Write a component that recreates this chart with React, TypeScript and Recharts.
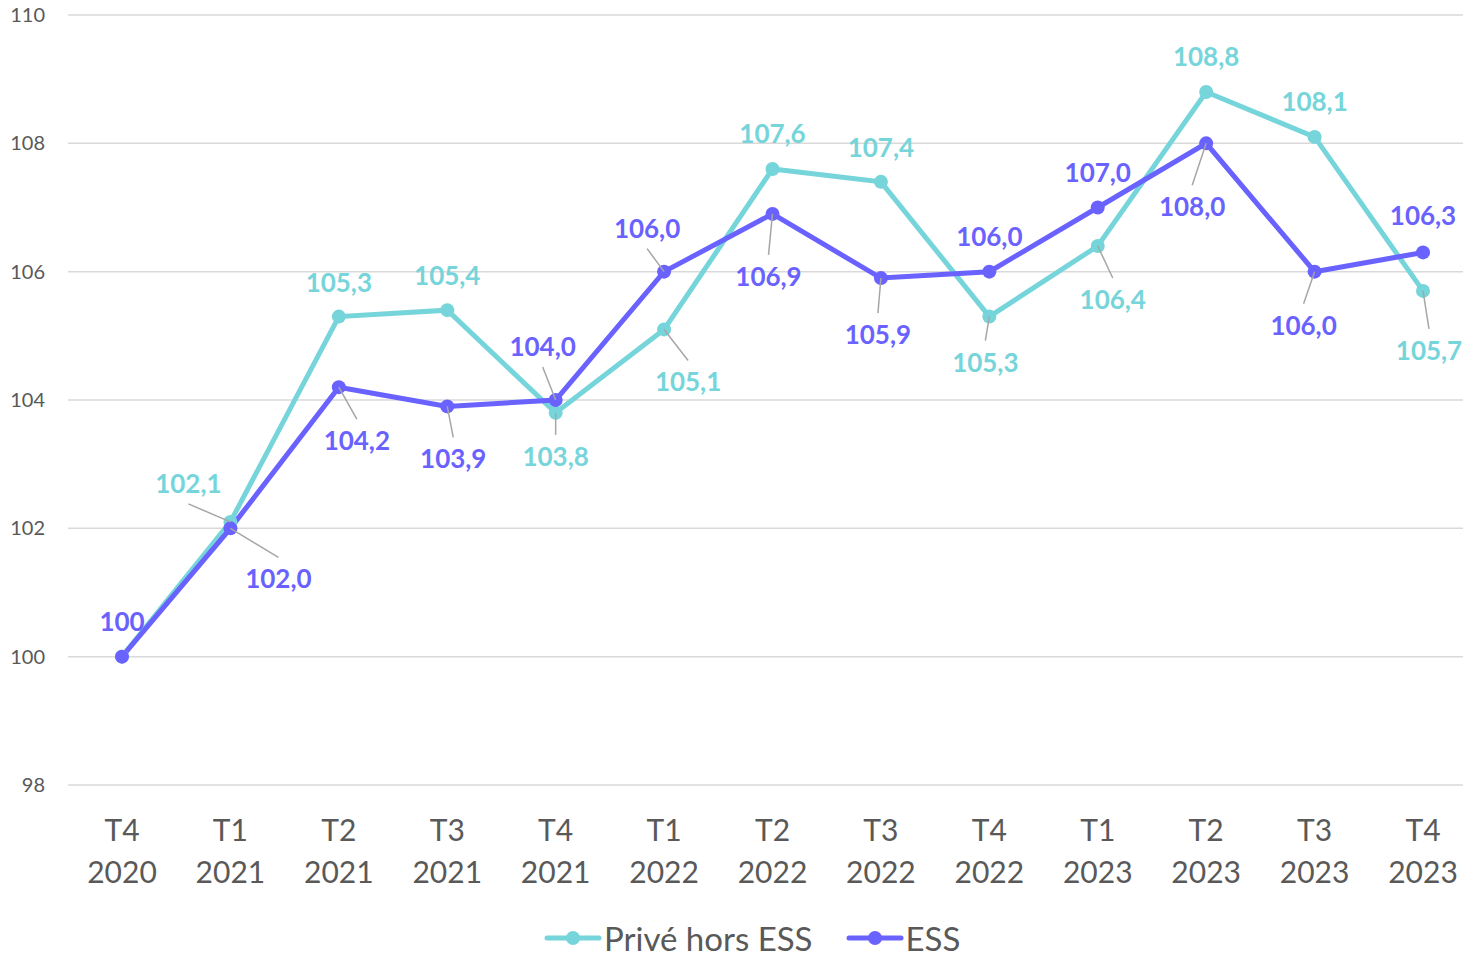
import React from "react";
import {
  LineChart,
  Line,
  XAxis,
  YAxis,
  CartesianGrid,
  Legend,
  LabelList,
} from "recharts";

const quarters = ["T4", "T1", "T2", "T3", "T4", "T1", "T2", "T3", "T4", "T1", "T2", "T3", "T4"];
const years = ["2020", "2021", "2021", "2021", "2021", "2022", "2022", "2022", "2022", "2023", "2023", "2023", "2023"];
const priveHorsEss = [100, 102.1, 105.3, 105.4, 103.8, 105.1, 107.6, 107.4, 105.3, 106.4, 108.8, 108.1, 105.7];
const ess = [100, 102.0, 104.2, 103.9, 104.0, 106.0, 106.9, 105.9, 106.0, 107.0, 108.0, 106.0, 106.3];
const yTicks = [98, 100, 102, 104, 106, 108, 110];

const seriesNames = { prive: "Privé hors ESS", ess: "ESS" };
const COLORS = { prive: "#76D5DA", ess: "#6A62FF" };
const TEXT = "#595959";
const FONT = "Lato, 'Open Sans', sans-serif";

// label placement (dx, dy from the point, leader line?) — layout only
type Place = [number, number, boolean] | null;
const priveLabelPlace: Place[] = [
  null,
  [-42, -38, true],
  [0, -34, false],
  [0, -34, false],
  [0, 44, true],
  [24, 53, true],
  [0, -35, false],
  [0, -34, false],
  [-4, 46, true],
  [15, 54, true],
  [0, -35, false],
  [0, -35, false],
  [6, 60, true],
];
const essLabelPlace: Place[] = [
  [0, -35, false],
  [48, 51, true],
  [18, 54, true],
  [6, 53, true],
  [-13, -53, true],
  [-17, -43, true],
  [-4, 63, true],
  [-3, 57, true],
  [0, -35, false],
  [0, -35, false],
  [-14, 64, true],
  [-11, 54, true],
  [0, -36, false],
];

const data = quarters.map((q, i) => ({
  cat: `${q} ${years[i]}`,
  prive: priveHorsEss[i],
  ess: ess[i],
}));

const fmt = (v: number, i: number) => (i === 0 ? String(v) : v.toFixed(1).replace(".", ","));

const makeLabel = (places: Place[], color: string) => (props: any) => {
  const { x, y, value, index } = props;
  const p = places[index];
  if (!p || x == null || y == null) return null;
  const [dx, dy, leader] = p;
  const lx = x + dx;
  const ly = y + dy;
  const ey = dy > 0 ? ly - 22 : ly + 20;
  return (
    <g key={`lbl-${index}`}>
      {leader && (
        <line x1={x} y1={y} x2={lx} y2={ey} stroke="#A6A6A6" strokeWidth={1.5} />
      )}
      <text
        x={lx}
        y={ly + 9}
        textAnchor="middle"
        fill={color}
        fontFamily={FONT}
        fontWeight={700}
        fontSize={26}
      >
        {fmt(Number(value), index)}
      </text>
    </g>
  );
};

const XTick = (props: any) => {
  const { x, y, payload } = props;
  const [q, yr] = String(payload.value).split(" ");
  return (
    <g>
      <text x={x} y={y + 56} textAnchor="middle" fill={TEXT} fontFamily={FONT} fontSize={30}>
        {q}
      </text>
      <text x={x} y={y + 98} textAnchor="middle" fill={TEXT} fontFamily={FONT} fontSize={30}>
        {yr}
      </text>
    </g>
  );
};

const LegendIcon = ({ color }: { color: string }) => (
  <svg width={58} height={16} style={{ display: "block" }}>
    <line x1={3} y1={8} x2={55} y2={8} stroke={color} strokeWidth={5} strokeLinecap="round" />
    <circle cx={29} cy={8} r={7} fill={color} />
  </svg>
);

const LegendContent = () => (
  <div
    style={{
      display: "flex",
      alignItems: "center",
      fontFamily: FONT,
      fontSize: 33,
      color: TEXT,
      lineHeight: "30px",
      height: 30,
      whiteSpace: "nowrap",
    }}
  >
    <LegendIcon color={COLORS.prive} />
    <span style={{ marginLeft: 2 }}>{seriesNames.prive}</span>
    <span style={{ width: 33 }} />
    <LegendIcon color={COLORS.ess} />
    <span style={{ marginLeft: 2 }}>{seriesNames.ess}</span>
  </div>
);

export default function App() {
  return (
    <div
      style={{
        position: "absolute",
        left: 0,
        top: 0,
        width: 1463,
        height: 954,
        overflow: "hidden",
        background: "#fff",
      }}
    >
      <LineChart
        width={1477}
        height={954}
        data={data}
        margin={{ top: 15, right: 0, bottom: 0, left: 8 }}
      >
        <CartesianGrid vertical={false} stroke="#D9D9D9" strokeWidth={1.5} />
        <XAxis
          dataKey="cat"
          height={169}
          axisLine={false}
          tickLine={false}
          tickSize={0}
          tickMargin={0}
          interval={0}
          padding={{ left: 54, right: 54 }}
          tick={<XTick />}
        />
        <YAxis
          width={60}
          domain={[98, 110]}
          ticks={yTicks}
          axisLine={false}
          tickLine={false}
          tickSize={0}
          tickMargin={23}
          tick={{ fill: TEXT, fontSize: 20, fontFamily: FONT }}
        />
        <Legend
          layout="horizontal"
          verticalAlign="middle"
          align="center"
          wrapperStyle={{ top: 923, left: 544, width: 560, height: 30 }}
          content={<LegendContent />}
        />
        <Line
          type="linear"
          dataKey="prive"
          name={seriesNames.prive}
          stroke={COLORS.prive}
          strokeWidth={5}
          dot={{ r: 7, fill: COLORS.prive, stroke: "none" }}
          isAnimationActive={false}
        >
          <LabelList dataKey="prive" content={makeLabel(priveLabelPlace, COLORS.prive)} />
        </Line>
        <Line
          type="linear"
          dataKey="ess"
          name={seriesNames.ess}
          stroke={COLORS.ess}
          strokeWidth={5}
          dot={{ r: 7, fill: COLORS.ess, stroke: "none" }}
          isAnimationActive={false}
        >
          <LabelList dataKey="ess" content={makeLabel(essLabelPlace, COLORS.ess)} />
        </Line>
      </LineChart>
    </div>
  );
}
